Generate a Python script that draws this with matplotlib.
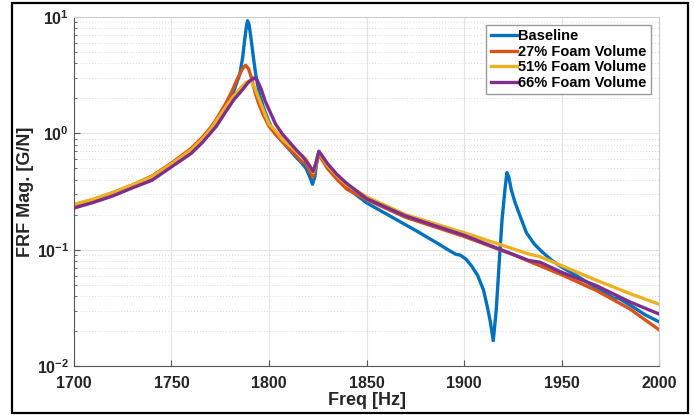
import numpy as np
import matplotlib
matplotlib.use("Agg")
import matplotlib.pyplot as plt
from matplotlib.patches import Rectangle

plt.rcParams['font.family'] = ['Liberation Sans', 'DejaVu Sans']
plt.rcParams['font.weight'] = 'bold'
plt.rcParams['mathtext.fontset'] = 'custom'
plt.rcParams['mathtext.rm'] = 'Liberation Sans:bold'
plt.rcParams['mathtext.bf'] = 'Liberation Sans:bold'

# values
base_f = [1700, 1710, 1720, 1730, 1740, 1750, 1755, 1760, 1765, 1770, 1775, 1778,
          1781, 1783, 1785, 1786.5, 1787.5, 1788.5, 1789, 1789.8, 1790.8, 1792,
          1793.2, 1795, 1797, 1800, 1803, 1807, 1810, 1814, 1817, 1819, 1821,
          1822.3, 1823.5, 1824.8, 1825.6, 1827, 1830, 1835, 1840, 1850, 1862,
          1875, 1887, 1893, 1896, 1898, 1901, 1904, 1907, 1910, 1912, 1913.5,
          1915, 1916.5, 1918, 1919.5, 1921, 1922, 1923, 1924.2, 1926, 1928,
          1932, 1936, 1940, 1945, 1950, 1959, 1967, 1975, 1977, 1979, 1985,
          1993, 2000]
base_v = [0.235, 0.265, 0.30, 0.35, 0.415, 0.53, 0.60, 0.70, 0.84, 1.05, 1.35, 1.70,
          2.05, 2.6, 3.2, 4.5, 6.3, 8.5, 9.3, 8.6, 6.5, 4.5,
          3.2, 2.2, 1.7, 1.25, 1.0, 0.85, 0.74, 0.62, 0.55, 0.50, 0.42,
          0.365, 0.42, 0.62, 0.70, 0.62, 0.52, 0.41, 0.34, 0.253, 0.195,
          0.147, 0.112, 0.097, 0.091, 0.090, 0.083, 0.072, 0.060, 0.045, 0.032, 0.024,
          0.0165, 0.030, 0.075, 0.18, 0.33, 0.46, 0.42, 0.33, 0.26, 0.21,
          0.14, 0.112, 0.096, 0.081, 0.071, 0.058, 0.048, 0.040, 0.038, 0.0385, 0.0335,
          0.0275, 0.024]

f27 = [1700, 1710, 1720, 1730, 1740, 1750, 1760, 1766, 1770, 1773, 1778, 1781,
       1783, 1785, 1786.5, 1788, 1789.5, 1791, 1793, 1795, 1797, 1800, 1803.4,
       1807, 1810, 1814, 1817, 1819, 1821, 1822.5, 1824, 1825.6, 1827, 1830,
       1835, 1840, 1850, 1870, 1900, 1925, 1933, 1950, 1968, 1985, 2000]
v27 = [0.243, 0.27, 0.31, 0.36, 0.43, 0.555, 0.74, 0.93, 1.12, 1.32, 1.83, 2.3,
       2.75, 3.25, 3.6, 3.85, 3.6, 3.0, 2.2, 1.75, 1.45, 1.15, 0.98,
       0.84, 0.75, 0.64, 0.57, 0.55, 0.47, 0.42, 0.52, 0.68, 0.60, 0.50,
       0.40, 0.33, 0.27, 0.19, 0.13, 0.091, 0.08, 0.061, 0.0445, 0.031, 0.0205]

f51 = [1700, 1710, 1720, 1730, 1740, 1750, 1760, 1766, 1770, 1778, 1782, 1786.4,
       1788.5, 1790.7, 1792.5, 1795, 1797, 1800, 1803.4, 1807, 1810, 1814, 1817,
       1819, 1821, 1822.7, 1824, 1825.6, 1827, 1830, 1835, 1840, 1850, 1870,
       1900, 1933, 1939, 1950, 1968, 1985, 2000]
v51 = [0.245, 0.272, 0.31, 0.36, 0.425, 0.545, 0.72, 0.90, 1.08, 1.7, 2.1, 2.56,
       2.75, 2.8, 2.5, 1.95, 1.6, 1.2, 1.05, 0.88, 0.80, 0.70, 0.64,
       0.60, 0.52, 0.46, 0.54, 0.69, 0.63, 0.53, 0.43, 0.36, 0.285, 0.20,
       0.14, 0.092, 0.087, 0.073, 0.0545, 0.042, 0.034]

f66 = [1700, 1710, 1720, 1730, 1740, 1750, 1760, 1766, 1773, 1778, 1782, 1786.4,
       1789.8, 1792.4, 1794, 1796, 1798, 1800, 1803.4, 1807, 1810, 1814, 1817,
       1819, 1821, 1822.6, 1824, 1825.6, 1827, 1830, 1835, 1840, 1850, 1870,
       1900, 1933, 1939, 1950, 1968, 1985, 2000]
v66 = [0.228, 0.255, 0.29, 0.34, 0.395, 0.515, 0.67, 0.84, 1.15, 1.55, 1.95, 2.37,
       2.8, 3.0, 2.85, 2.4, 1.9, 1.6, 1.2, 0.98, 0.86, 0.72, 0.64,
       0.58, 0.52, 0.47, 0.55, 0.70, 0.65, 0.55, 0.44, 0.37, 0.275, 0.195,
       0.133, 0.081, 0.078, 0.064, 0.049, 0.0356, 0.028]

labels = ['Baseline', '27% Foam Volume', '51% Foam Volume', '66% Foam Volume']
colors = ['#0072BD', '#D95319', '#EDB120', '#7E2F8E']


def main():
    fig = plt.figure(figsize=(6.94, 4.15), dpi=100)
    ax = fig.add_axes([0.1066, 0.118, 0.843, 0.841])

    series = [(base_f, base_v), (f27, v27), (f51, v51), (f66, v66)]
    for (f, v), lab, c in zip(series, labels, colors):
        ax.plot(f, v, color=c, lw=2.4, label=lab, solid_joinstyle='round')

    ax.set_yscale('log')
    ax.set_xlim(1700, 2000)
    ax.set_ylim(1e-2, 1e1)
    ax.set_xticks(np.arange(1700, 2001, 50))

    # MATLAB-ish grid
    ax.grid(True, which='major', color='#e3e3e3', lw=0.8, ls='-')
    ax.grid(True, which='minor', axis='y', color='#d8d8d8', lw=0.7, ls=(0, (1, 2)))
    ax.set_axisbelow(True)

    for s in ['left', 'bottom']:
        ax.spines[s].set_color('#555555')
    for s in ['top', 'right']:
        ax.spines[s].set_color('#cccccc')
    ax.tick_params(which='both', direction='in', labelsize=11.5, colors='#555555',
                   labelcolor='#262626')
    ax.tick_params(which='major', length=4)
    ax.tick_params(which='minor', length=2)
    ax.tick_params(axis='x', which='both', pad=7)
    ax.tick_params(axis='x', which='minor', bottom=False)

    ax.set_xlabel('Freq [Hz]', fontsize=13, fontweight='bold', color='#262626', labelpad=1)
    ax.set_ylabel('FRF Mag. [G/N]', fontsize=13, fontweight='bold', color='#262626', labelpad=2)

    leg = ax.legend(loc='upper right', fontsize=10.5, handlelength=1.8, handletextpad=0.1,
                    labelspacing=0.1, borderpad=0.3, borderaxespad=0.55, fancybox=False,
                    framealpha=1, edgecolor='#999999')
    leg.get_frame().set_linewidth(1.0)
    for t in leg.get_texts():
        t.set_fontweight('bold')

    # outer frame of the picture
    fig.patches.append(Rectangle((12 / 694, 2 / 415), 676 / 694, 410 / 415,
                                 transform=fig.transFigure, fill=False,
                                 edgecolor='black', lw=1.6))

    fig.savefig('out.png', dpi=100)


if __name__ == "__main__":
    main()
